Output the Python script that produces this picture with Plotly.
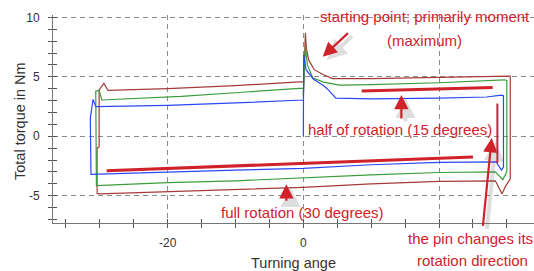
import plotly.graph_objects as go

# ---- measured torque loops (turning angle in degrees, torque in Nm) ----
brown_x = [0, 0.3, 0.45, 0.8, 1.6, 2.9, 4.3, 10, 20, 29.8, 30.5, 30.5, 29.8, 29.3, 28.3, 20, 10, 0, -10, -20,
           -30.1, -30.4, -30.4, -30.1, -30.1, -29.4, -28.8, -20, -10, 0]
brown_y = [3.3, 8.7, 7.4, 6.4, 5.6, 5.2, 4.85, 4.85, 4.95, 5.1, 5.05, -3.6, -4.2, -4.85, -3.75, -3.8, -4.0, -4.3, -4.5, -4.65,
           -4.85, -4.8, -1.0, -0.9, 3.9, 4.45, 3.85, 4.0, 4.25, 4.6]

green_x = [0, 0.3, 0.6, 1.4, 3.0, 5.3, 10, 20, 29.6, 30.0, 30.0, 29.4, 28.3, 20, 10, 0, -10, -20,
           -30.5, -30.6, -30.1, -29.7, -18, -9, 0]
green_y = [3.5, 7.6, 6.0, 4.9, 4.55, 4.3, 4.35, 4.5, 4.75, 4.7, -3.0, -3.65, -3.0, -3.05, -3.25, -3.5, -3.75, -3.9,
           -4.15, 3.8, 3.85, 3.05, 3.35, 3.7, 4.05]

blue_x = [0, 0.05, 0.4, 1.5, 3.0, 3.5, 4.8, 10, 20, 27, 29.2, 29.5, 29.5, 29.2, 28.4, 20, 10, 0, -10, -20,
          -31.3, -31.4, -31.0, -30.6, -20, -10, 0]
blue_y = [0, 6.85, 5.6, 4.8, 4.25, 4.0, 3.2, 3.15, 3.2, 3.3, 3.45, 3.4, -2.6, -2.85, -2.15, -2.2, -2.4, -2.7, -2.85, -3.0,
          -3.2, 1.5, 3.1, 2.5, 2.6, 2.8, 3.05]

# ---- hand-drawn annotation strokes (data coordinates) ----
full_line_x = [-29.0, 25.0]
full_line_y = [-2.9, -1.75]
half_line_x = [8.6, 27.9]
half_line_y = [3.8, 4.1]
pin_line_x = [28.6, 28.6]
pin_line_y = [2.75, -2.25]

# axis ticks
x_tickvals = [-20, 0, 20]
x_ticktext = ["-20", "0", ""]
y_tickvals = [-5, 0, 5, 10]
y_ticktext = ["-5", "0", "5", "10"]

X_RANGE = [-36.9, 34.0]
Y_RANGE = [-7.3, 10.2]

RED = "#d0222a"
FONT = "Liberation Sans, Arial, sans-serif"

# plot area in pixels (for placing paper-referenced texts)
L, R, T, B, W, H = 53, 0, 15, 48, 534, 271
PW, PH = W - L - R, H - T - B


def px(xp):
    return (xp - L) / PW


def py(yp):
    return (H - B - yp) / PH


fig = go.Figure()
for xs, ys, col in [(brown_x, brown_y, "#a63c3a"), (green_x, green_y, "#3c9c3c"), (blue_x, blue_y, "#2a48f5")]:
    fig.add_trace(go.Scatter(x=xs, y=ys, mode="lines", line=dict(color=col, width=1.2),
                             showlegend=False, hoverinfo="skip"))

for xs, ys, w in [(full_line_x, full_line_y, 3), (half_line_x, half_line_y, 3), (pin_line_x, pin_line_y, 2)]:
    fig.add_trace(go.Scatter(x=xs, y=ys, mode="lines", line=dict(color=RED, width=w),
                             showlegend=False, hoverinfo="skip"))

# dummy trace on overlay axes (used for the inner half of the crossing ticks)
fig.add_trace(go.Scatter(x=[None], y=[None], xaxis="x2", yaxis="y2", showlegend=False, hoverinfo="skip"))

axis_common = dict(showline=True, linecolor="#777", linewidth=1, zeroline=False, automargin=False,
                   tickfont=dict(family=FONT, size=12, color="#333"))

fig.update_layout(
    width=W, height=H,
    margin=dict(l=L, r=R, t=T, b=B, autoexpand=False),
    paper_bgcolor="white", plot_bgcolor="white",
    xaxis=dict(range=X_RANGE, tickvals=x_tickvals, ticktext=x_ticktext,
               ticks="outside", ticklen=4, tickcolor="#555",
               minor=dict(dtick=5, tick0=0, ticks="outside", ticklen=4, tickcolor="#555", showgrid=False),
               showgrid=True, gridcolor="#8a8a8a", griddash="5px,4px", gridwidth=1,
               title=dict(text="Turning ange", font=dict(family=FONT, size=14.5, color="#333"), standoff=8),
               ticklabelstandoff=5, **axis_common),
    yaxis=dict(range=Y_RANGE, tickvals=y_tickvals, ticktext=y_ticktext,
               ticks="outside", ticklen=4, tickcolor="#555",
               minor=dict(dtick=1, tick0=0, ticks="outside", ticklen=4, tickcolor="#555", showgrid=False),
               showgrid=True, gridcolor="#8a8a8a", griddash="5px,4px", gridwidth=1,
               ticklabelstandoff=6, **axis_common),
    xaxis2=dict(range=X_RANGE, overlaying="x", anchor="y2", side="bottom", tickvals=x_tickvals,
                showticklabels=False, ticks="inside", ticklen=4, tickcolor="#555", automargin=False,
                minor=dict(dtick=5, tick0=0, ticks="inside", ticklen=4, tickcolor="#555"),
                showgrid=False, zeroline=False, showline=False),
    yaxis2=dict(range=Y_RANGE, overlaying="y", anchor="x2", side="left", tickvals=y_tickvals,
                showticklabels=False, ticks="inside", ticklen=4, tickcolor="#555", automargin=False,
                minor=dict(dtick=1, tick0=0, ticks="inside", ticklen=4, tickcolor="#555"),
                showgrid=False, zeroline=False, showline=False),
)

# y axis title
fig.add_annotation(text="Total torque in Nm", x=px(20), y=py(121), xref="paper", yref="paper",
                   showarrow=False, textangle=-90, xanchor="center", yanchor="middle",
                   font=dict(family=FONT, size=14.5, color="#333"))

texts = [  # text, centre in pixels
    ("starting point; primarily moment", 425, 17),
    ("(maximum)", 424, 40),
    ("half of rotation (15 degrees)", 400, 129),
    ("full rotation (30 degrees)", 302, 212),
    ("the pin changes its", 470, 238),
    ("rotation direction", 472, 260),
]
for t, xp, yp in texts:
    fig.add_annotation(text=t, x=px(xp), y=py(yp), xref="paper", yref="paper", showarrow=False,
                       font=dict(family=FONT, size=15, color=RED), xanchor="center", yanchor="middle")

arrows = [  # (tail_x, tail_y, tip_x, tip_y) in data units
    (6.8, 8.79, 2.85, 6.68),
    (14.45, 1.37, 14.45, 3.47),
    (-2.5, -5.55, -2.5, -4.03),
    (26.45, -7.66, 27.77, -0.15),
]
for ax, ay, x, y in arrows:
    fig.add_annotation(x=x + 0.6, y=y - 0.25, ax=ax + 0.6, ay=ay - 0.25, xref="x", yref="y", axref="x", ayref="y",
                       text="", showarrow=True, arrowhead=2, arrowsize=1.0, arrowwidth=4,
                       arrowcolor="rgba(110,110,110,0.22)")
    fig.add_annotation(x=x, y=y, ax=ax, ay=ay, xref="x", yref="y", axref="x", ayref="y",
                       text="", showarrow=True, arrowhead=2, arrowsize=1.3, arrowwidth=2.2,
                       arrowcolor=RED)

fig.write_html("out.html", config={"displayModeBar": False},
               post_script="document.body.style.margin='0';document.body.style.overflow='hidden';")
